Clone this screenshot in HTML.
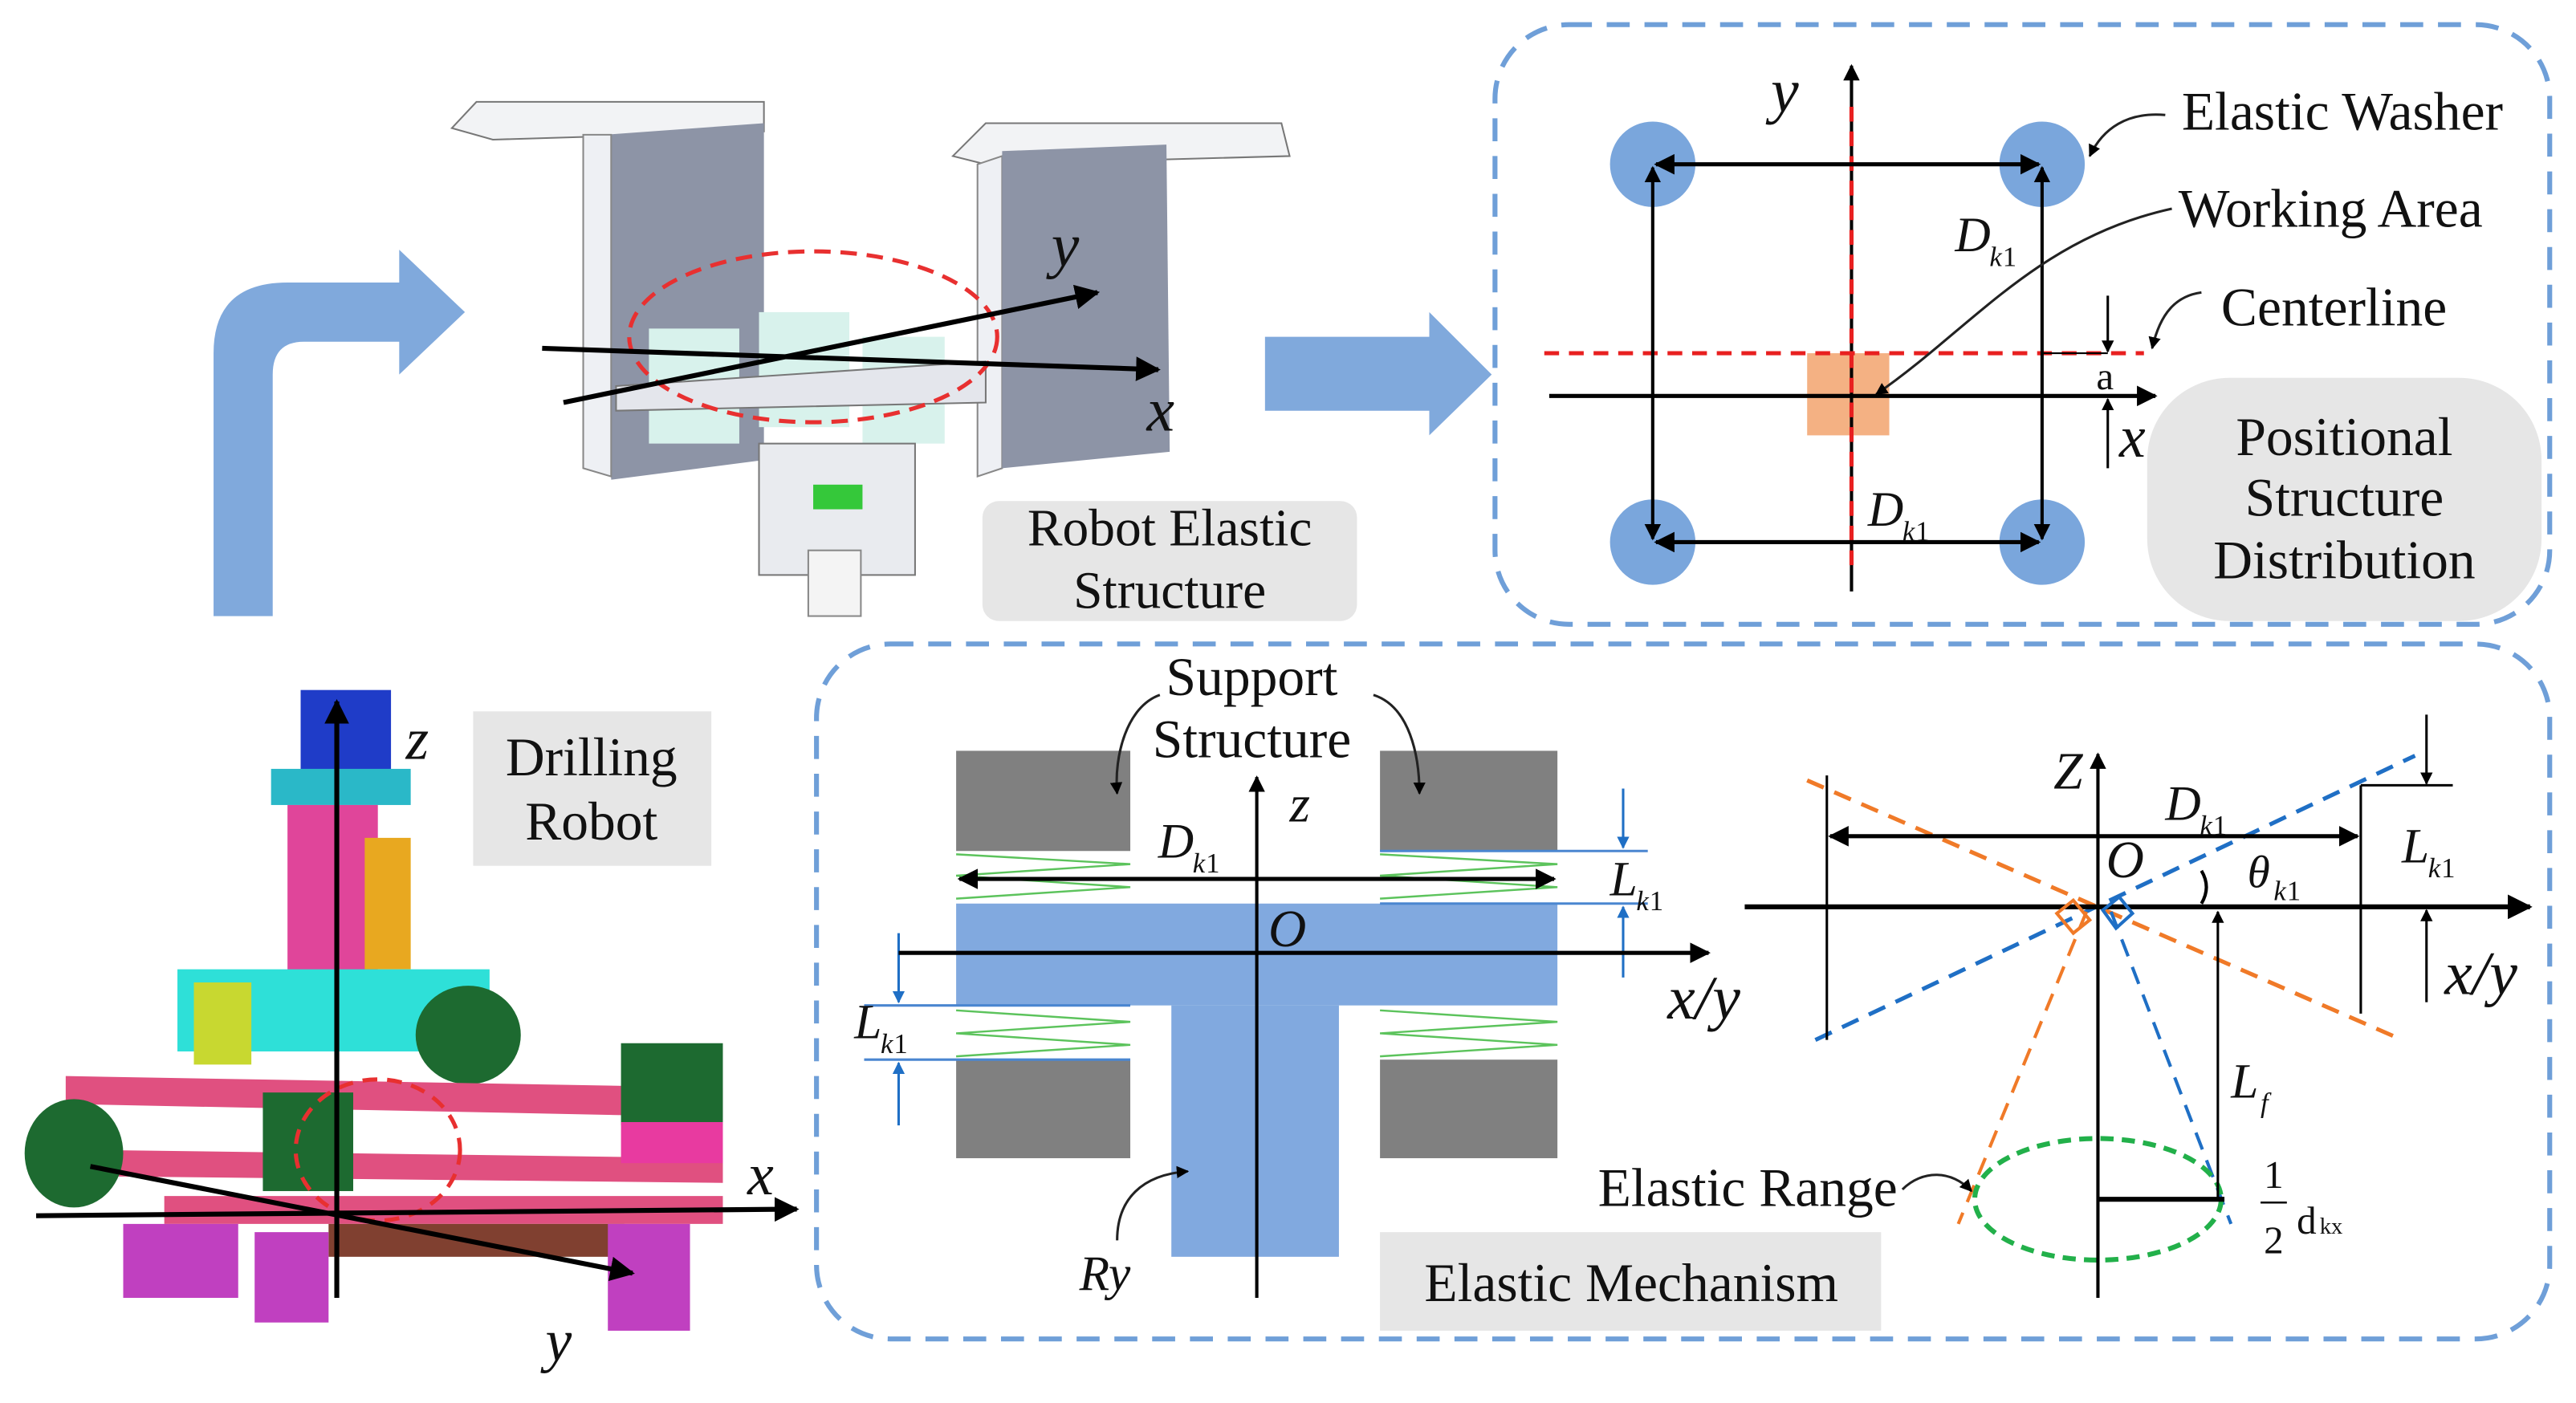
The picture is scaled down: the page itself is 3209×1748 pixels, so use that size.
<!DOCTYPE html>
<html><head><meta charset="utf-8"><style>
html,body{margin:0;padding:0;background:#fff;}
svg{display:block;}
text{font-family:"Liberation Serif",serif;fill:#111;}
.it{font-style:italic;}
</style></head><body>
<svg width="3209" height="1748" viewBox="0 0 1568 854" preserveAspectRatio="none" xmlns="http://www.w3.org/2000/svg">
<defs>
<marker id="ah" viewBox="0 0 10 10" refX="9" refY="5" markerWidth="5" markerHeight="5" orient="auto-start-reverse"><path d="M0,0L10,5L0,10z" fill="#000"/></marker>
<marker id="ab" viewBox="0 0 10 10" refX="9" refY="5" markerWidth="5" markerHeight="5" orient="auto-start-reverse"><path d="M0,0L10,5L0,10z" fill="#1f6fc5"/></marker>
</defs>
<rect width="1568" height="854" fill="#fff"/>

<!-- big arrows -->
<path d="M130,375 L130,215 Q130,172 175,172 L243,172 L243,152 L283,190 L243,228 L243,208 L185,208 Q166,208 166,228 L166,375 Z" fill="#80a9dc"/>
<path d="M770,205 L870,205 L870,190 L908,228 L870,265 L870,250 L770,250 Z" fill="#80a9dc"/>

<!-- dashed boxes -->
<rect x="910" y="15" width="642" height="365" rx="45" fill="none" stroke="#6f9fd8" stroke-width="3" stroke-dasharray="14,9"/>
<rect x="497" y="392" width="1055" height="423" rx="45" fill="none" stroke="#6f9fd8" stroke-width="3" stroke-dasharray="14,9"/>

<!-- bracket image (approx) -->
<g>
<path d="M275,78 L290,62 L465,62 L465,80 L300,85 Z" fill="#f2f3f5" stroke="#777" stroke-width="1"/>
<path d="M368,82 L465,75 L465,280 L372,292 Z" fill="#8d94a6"/>
<path d="M355,82 L372,82 L372,290 L355,285 Z" fill="#eef0f4" stroke="#888" stroke-width="1"/>
<path d="M580,95 L600,75 L780,75 L785,95 L600,100 Z" fill="#f2f3f5" stroke="#777" stroke-width="1"/>
<path d="M595,100 L610,95 L610,285 L595,290 Z" fill="#eef0f4" stroke="#888" stroke-width="1"/>
<path d="M610,92 L710,88 L712,275 L610,285 Z" fill="#8d94a6"/>
<rect x="395" y="200" width="55" height="70" fill="#d8f2ec"/>
<rect x="462" y="190" width="55" height="70" fill="#d8f2ec"/>
<rect x="525" y="205" width="50" height="65" fill="#d8f2ec"/>
<path d="M375,235 L600,220 L600,245 L375,250Z" fill="#e4e6ec" stroke="#777"/>
<rect x="462" y="270" width="95" height="80" fill="#e9ebef" stroke="#777"/>
<rect x="495" y="295" width="30" height="15" fill="#35c83a"/>
<rect x="492" y="335" width="32" height="40" fill="#f4f4f4" stroke="#888"/>
<ellipse cx="495" cy="205" rx="112" ry="52" fill="none" stroke="#e83030" stroke-width="2.5" stroke-dasharray="10,6"/>
<line x1="330" y1="212" x2="705" y2="225" stroke="#000" stroke-width="3" marker-end="url(#ah)"/>
<line x1="343" y1="245" x2="668" y2="178" stroke="#000" stroke-width="3" marker-end="url(#ah)"/>
<text x="640" y="162" font-size="38" class="it">y</text>
<text x="698" y="262" font-size="38" class="it">x</text>
</g>
<rect x="598" y="305" width="228" height="73" rx="10" fill="#e6e6e6"/>
<text x="712" y="332" font-size="32" text-anchor="middle">Robot Elastic</text>
<text x="712" y="370" font-size="32" text-anchor="middle">Structure</text>

<!-- drilling robot (approx) -->
<g>
<rect x="183" y="420" width="55" height="50" fill="#1f3cc8"/>
<rect x="165" y="468" width="85" height="22" fill="#2ab8c8"/>
<rect x="175" y="490" width="55" height="110" fill="#e0459a"/>
<rect x="222" y="510" width="28" height="80" fill="#e8a820"/>
<rect x="108" y="590" width="190" height="50" fill="#2ee0d8"/>
<rect x="118" y="598" width="35" height="50" fill="#c8d830"/>
<ellipse cx="285" cy="630" rx="32" ry="30" fill="#1d6a30"/>
<path d="M40,655 L440,662 L440,680 L40,672 Z" fill="#e05080"/>
<path d="M60,700 L440,705 L440,720 L60,716 Z" fill="#e05080"/>
<path d="M100,728 L440,728 L440,745 L100,745 Z" fill="#e05080"/>
<rect x="378" y="635" width="62" height="50" fill="#1d6a30"/>
<rect x="378" y="683" width="62" height="25" fill="#e83aa0"/>
<rect x="160" y="665" width="55" height="60" fill="#1d6a30"/>
<ellipse cx="45" cy="702" rx="30" ry="33" fill="#1d6a30"/>
<rect x="75" y="745" width="70" height="45" fill="#c040c0"/>
<rect x="200" y="745" width="180" height="20" fill="#804030"/>
<rect x="370" y="745" width="50" height="65" fill="#c040c0"/>
<rect x="155" y="750" width="45" height="55" fill="#c040c0"/>
<ellipse cx="230" cy="700" rx="50" ry="43" fill="none" stroke="#e83030" stroke-width="2.5" stroke-dasharray="9,6"/>
<line x1="205" y1="790" x2="205" y2="427" stroke="#000" stroke-width="3" marker-end="url(#ah)"/>
<line x1="22" y1="740" x2="485" y2="736" stroke="#000" stroke-width="3" marker-end="url(#ah)"/>
<line x1="55" y1="710" x2="385" y2="775" stroke="#000" stroke-width="3" marker-end="url(#ah)"/>
<text x="247" y="462" font-size="36" class="it">z</text>
<text x="455" y="727" font-size="36" class="it">x</text>
<text x="332" y="828" font-size="36" class="it">y</text>
</g>
<rect x="288" y="433" width="145" height="94" fill="#e6e6e6"/>
<text x="360" y="472" font-size="33" text-anchor="middle">Drilling</text>
<text x="360" y="511" font-size="33" text-anchor="middle">Robot</text>

<!-- top-right diagram -->
<g>
<circle cx="1006" cy="100" r="26" fill="#7aa6dc"/>
<circle cx="1243" cy="100" r="26" fill="#7aa6dc"/>
<circle cx="1006" cy="330" r="26" fill="#7aa6dc"/>
<circle cx="1243" cy="330" r="26" fill="#7aa6dc"/>
<rect x="1100" y="215" width="50" height="50" fill="#f4b183"/>
<line x1="1127" y1="360" x2="1127" y2="40" stroke="#000" stroke-width="2" marker-end="url(#ah)"/>
<line x1="1127" y1="65" x2="1127" y2="345" stroke="#e82020" stroke-width="2.5" stroke-dasharray="9,6"/>
<line x1="940" y1="215" x2="1305" y2="215" stroke="#e82020" stroke-width="2.5" stroke-dasharray="9,6"/>
<line x1="943" y1="241" x2="1312" y2="241" stroke="#000" stroke-width="2.5" marker-end="url(#ah)"/>
<line x1="1008" y1="100" x2="1241" y2="100" stroke="#000" stroke-width="2.5" marker-start="url(#ah)" marker-end="url(#ah)"/>
<line x1="1008" y1="330" x2="1241" y2="330" stroke="#000" stroke-width="2.5" marker-start="url(#ah)" marker-end="url(#ah)"/>
<line x1="1006" y1="102" x2="1006" y2="328" stroke="#000" stroke-width="2" marker-start="url(#ah)" marker-end="url(#ah)"/>
<line x1="1243" y1="102" x2="1243" y2="328" stroke="#000" stroke-width="2" marker-start="url(#ah)" marker-end="url(#ah)"/>
<line x1="1283" y1="180" x2="1283" y2="214" stroke="#000" stroke-width="1.5" marker-end="url(#ah)"/>
<line x1="1283" y1="285" x2="1283" y2="243" stroke="#000" stroke-width="1.5" marker-end="url(#ah)"/>
<line x1="1243" y1="215" x2="1283" y2="215" stroke="#000" stroke-width="1"/>
<path d="M1322,127 C1240,145 1200,200 1142,240" fill="none" stroke="#222" stroke-width="1.5" marker-end="url(#ah)"/>
<path d="M1318,70 C1295,68 1280,78 1272,95" fill="none" stroke="#222" stroke-width="1.5" marker-end="url(#ah)"/>
<path d="M1340,178 C1325,180 1315,190 1310,212" fill="none" stroke="#222" stroke-width="1.5" marker-end="url(#ah)"/>
<text x="1078" y="68" font-size="38" class="it">y</text>
<text x="1190" y="153" font-size="30" class="it">D</text><text x="1211" y="162" font-size="17" class="it">k</text><text x="1219" y="162" font-size="17">1</text>
<text x="1137" y="320" font-size="30" class="it">D</text><text x="1158" y="329" font-size="17" class="it">k</text><text x="1166" y="329" font-size="17">1</text>
<text x="1328" y="79" font-size="33">Elastic Washer</text>
<text x="1326" y="138" font-size="33">Working Area</text>
<text x="1352" y="198" font-size="33">Centerline</text>
<text x="1276" y="237" font-size="24">a</text>
<text x="1290" y="278" font-size="36" class="it">x</text>
</g>
<rect x="1307" y="230" width="240" height="148" rx="50" fill="#e6e6e6"/>
<text x="1427" y="277" font-size="33" text-anchor="middle">Positional</text>
<text x="1427" y="314" font-size="33" text-anchor="middle">Structure</text>
<text x="1427" y="352" font-size="33" text-anchor="middle">Distribution</text>

<!-- bottom-left mechanism -->
<g>
<rect x="582" y="457" width="106" height="61" fill="#808080"/>
<rect x="840" y="457" width="108" height="61" fill="#808080"/>
<rect x="582" y="645" width="106" height="60" fill="#808080"/>
<rect x="840" y="645" width="108" height="60" fill="#808080"/>
<rect x="582" y="550" width="366" height="62" fill="#81a9df"/>
<rect x="713" y="612" width="102" height="153" fill="#81a9df"/>
<g fill="none" stroke="#5cc35c" stroke-width="1.2">
<polyline points="582,520 688,526 582,533 688,540 582,547"/>
<polyline points="840,520 948,526 840,533 948,540 840,547"/>
<polyline points="582,615 688,622 582,629 688,636 582,643"/>
<polyline points="840,615 948,622 840,629 948,636 840,643"/>
</g>
<line x1="840" y1="518" x2="1003" y2="518" stroke="#4a86d0" stroke-width="1.5"/>
<line x1="840" y1="550" x2="1003" y2="550" stroke="#4a86d0" stroke-width="1.5"/>
<line x1="526" y1="612" x2="688" y2="612" stroke="#4a86d0" stroke-width="1.5"/>
<line x1="526" y1="645" x2="688" y2="645" stroke="#4a86d0" stroke-width="1.5"/>
<line x1="988" y1="480" x2="988" y2="516" stroke="#1f6fc5" stroke-width="1.5" marker-end="url(#ab)"/>
<line x1="988" y1="595" x2="988" y2="552" stroke="#1f6fc5" stroke-width="1.5" marker-end="url(#ab)"/>
<line x1="547" y1="568" x2="547" y2="610" stroke="#1f6fc5" stroke-width="1.5" marker-end="url(#ab)"/>
<line x1="547" y1="685" x2="547" y2="647" stroke="#1f6fc5" stroke-width="1.5" marker-end="url(#ab)"/>
<line x1="765" y1="790" x2="765" y2="473" stroke="#000" stroke-width="2" marker-end="url(#ah)"/>
<line x1="547" y1="580" x2="1040" y2="580" stroke="#000" stroke-width="2.5" marker-end="url(#ah)"/>
<line x1="584" y1="535" x2="946" y2="535" stroke="#000" stroke-width="2.5" marker-start="url(#ah)" marker-end="url(#ah)"/>
<path d="M706,423 C686,430 678,460 680,483" fill="none" stroke="#222" stroke-width="1.5" marker-end="url(#ah)"/>
<path d="M836,423 C858,430 864,460 864,483" fill="none" stroke="#222" stroke-width="1.5" marker-end="url(#ah)"/>
<path d="M680,755 C680,730 695,715 723,713" fill="none" stroke="#222" stroke-width="1.5" marker-end="url(#ah)"/>
<text x="762" y="423" font-size="33" text-anchor="middle">Support</text>
<text x="762" y="461" font-size="33" text-anchor="middle">Structure</text>
<text x="785" y="500" font-size="32" class="it">z</text>
<text x="705" y="522" font-size="30" class="it">D</text><text x="726" y="531" font-size="17" class="it">k</text><text x="734" y="531" font-size="17">1</text>
<text x="980" y="545" font-size="30" class="it">L</text><text x="996" y="554" font-size="17" class="it">k</text><text x="1004" y="554" font-size="17">1</text>
<text x="520" y="632" font-size="30" class="it">L</text><text x="536" y="641" font-size="17" class="it">k</text><text x="544" y="641" font-size="17">1</text>
<text x="772" y="576" font-size="32" class="it">O</text>
<text x="1015" y="620" font-size="38" class="it">x/y</text>
<text x="657" y="785" font-size="30" class="it">Ry</text>
</g>
<rect x="840" y="750" width="305" height="60" fill="#e6e6e6"/>
<text x="993" y="792" font-size="33" text-anchor="middle">Elastic Mechanism</text>

<!-- bottom-right mechanism -->
<g>
<line x1="1105" y1="633" x2="1470" y2="460" stroke="#1f6fc5" stroke-width="2.5" stroke-dasharray="11,7"/>
<line x1="1100" y1="475" x2="1460" y2="632" stroke="#f07a28" stroke-width="2.5" stroke-dasharray="11,7"/>
<line x1="1270" y1="555" x2="1192" y2="745" stroke="#f07a28" stroke-width="2" stroke-dasharray="11,7"/>
<line x1="1285" y1="555" x2="1358" y2="745" stroke="#1f6fc5" stroke-width="2" stroke-dasharray="11,7"/>
<ellipse cx="1277" cy="730" rx="75" ry="37" fill="none" stroke="#22b04a" stroke-width="3" stroke-dasharray="8,5"/>
<line x1="1277" y1="790" x2="1277" y2="459" stroke="#000" stroke-width="2" marker-end="url(#ah)"/>
<line x1="1062" y1="552" x2="1540" y2="552" stroke="#000" stroke-width="3" marker-end="url(#ah)"/>
<line x1="1112" y1="472" x2="1112" y2="633" stroke="#000" stroke-width="1.5"/>
<line x1="1437" y1="478" x2="1437" y2="617" stroke="#000" stroke-width="1.5"/>
<line x1="1437" y1="478" x2="1493" y2="478" stroke="#000" stroke-width="1.5"/>
<line x1="1114" y1="509" x2="1435" y2="509" stroke="#000" stroke-width="2.5" marker-start="url(#ah)" marker-end="url(#ah)"/>
<line x1="1477" y1="435" x2="1477" y2="477" stroke="#000" stroke-width="1.5" marker-end="url(#ah)"/>
<line x1="1477" y1="610" x2="1477" y2="554" stroke="#000" stroke-width="1.5" marker-end="url(#ah)"/>
<line x1="1350" y1="730" x2="1350" y2="555" stroke="#000" stroke-width="1.5" marker-end="url(#ah)"/>
<line x1="1277" y1="730" x2="1354" y2="730" stroke="#000" stroke-width="3"/>
<path d="M1262,548 L1272,560 L1262,568 L1252,556Z" fill="none" stroke="#f07a28" stroke-width="2"/>
<path d="M1290,546 L1298,556 L1288,565 L1280,554Z" fill="none" stroke="#1f6fc5" stroke-width="2"/>
<path d="M1340,530 Q1346,540 1340,550" fill="none" stroke="#000" stroke-width="2"/>
<path d="M1158,724 C1170,712 1188,712 1200,725" fill="none" stroke="#222" stroke-width="1.5" marker-end="url(#ah)"/>
<text x="1250" y="480" font-size="32" class="it">Z</text>
<text x="1318" y="499" font-size="30" class="it">D</text><text x="1339" y="508" font-size="17" class="it">k</text><text x="1347" y="508" font-size="17">1</text>
<text x="1282" y="534" font-size="32" class="it">O</text>
<text x="1368" y="540" font-size="28" class="it">θ</text><text x="1384" y="548" font-size="17" class="it">k</text><text x="1392" y="548" font-size="17">1</text>
<text x="1462" y="525" font-size="30" class="it">L</text><text x="1478" y="534" font-size="17" class="it">k</text><text x="1486" y="534" font-size="17">1</text>
<text x="1488" y="605" font-size="38" class="it">x/y</text>
<text x="1358" y="668" font-size="30" class="it">L</text><text x="1376" y="677" font-size="17" class="it">f</text>
<text x="1155" y="734" font-size="33" text-anchor="end">Elastic Range</text>
<text x="1378" y="723" font-size="24">1</text>
<line x1="1376" y1="732" x2="1392" y2="732" stroke="#000" stroke-width="1.2"/>
<text x="1378" y="763" font-size="24">2</text>
<text x="1398" y="751" font-size="24">d</text><text x="1412" y="751" font-size="14">kx</text>
</g>
</svg>
</body></html>
